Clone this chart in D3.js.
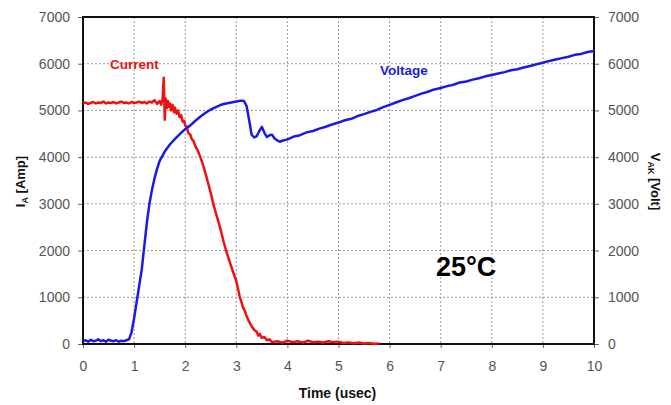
<!DOCTYPE html>
<html><head><meta charset="utf-8">
<script src="https://cdn.jsdelivr.net/npm/d3@7"></script>
<style>
body{margin:0;background:#fff;}
svg text{font-family:"Liberation Sans",Arial,sans-serif;}
</style></head>
<body><svg id="c" width="671" height="405"></svg>
<script>
const timeTicks = [0,1,2,3,4,5,6,7,8,9,10];
const yTicks = [0,1000,2000,3000,4000,5000,6000,7000];

const currentT = [0,0.05,0.1,0.15,0.2,0.25,0.3,0.35,0.4,0.45,0.5,0.55,0.6,0.65,0.7,0.75,0.8,0.85,0.9,0.95,1.0,1.05,1.1,1.15,1.2,1.25,1.3,1.35,1.4,1.45,1.5,1.53,1.56,1.58,1.59,1.6,1.62,1.64,1.66,1.68,1.7,1.72,1.75,1.78,1.8,1.83,1.86,1.89,1.92,1.95,1.98,2.0,2.03,2.06,2.1,2.13,2.16,2.2,2.25,2.3,2.35,2.4,2.45,2.5,2.55,2.6,2.65,2.7,2.75,2.8,2.85,2.9,2.95,3.0,3.04,3.07,3.1,3.13,3.17,3.2,3.25,3.3,3.35,3.4,3.43,3.46,3.5,3.55,3.6,3.65,3.7,3.8,3.9,4.0,4.1,4.2,4.3,4.4,4.5,4.6,4.7,4.8,4.9,5.0,5.1,5.2,5.3,5.4,5.5,5.6,5.7,5.8];
const currentI = [5150,5170,5140,5160,5180,5150,5170,5160,5190,5150,5170,5160,5180,5150,5170,5190,5160,5170,5150,5180,5160,5170,5190,5160,5180,5150,5190,5170,5220,5140,5200,5120,5260,5700,5300,4800,5250,5050,5200,5080,5150,5000,5120,4960,5060,4930,5000,4860,4900,4760,4780,4680,4650,4520,4480,4380,4350,4230,4130,3990,3830,3640,3440,3230,3000,2800,2620,2420,2200,2000,1830,1660,1500,1350,1150,1000,900,790,700,600,480,380,300,260,180,220,130,150,80,100,40,60,30,70,40,60,30,70,40,50,30,60,40,50,20,35,15,30,10,20,5,10];

const voltT = [0,0.05,0.1,0.15,0.2,0.25,0.3,0.35,0.4,0.45,0.5,0.55,0.6,0.65,0.7,0.75,0.8,0.85,0.9,0.95,1.0,1.05,1.1,1.15,1.2,1.25,1.3,1.35,1.4,1.45,1.5,1.6,1.7,1.8,1.9,2.0,2.1,2.2,2.3,2.4,2.5,2.6,2.7,2.8,2.9,3.0,3.05,3.1,3.15,3.2,3.25,3.3,3.35,3.4,3.45,3.5,3.55,3.6,3.65,3.7,3.75,3.8,3.85,3.9,4.0,4.125,4.25,4.375,4.5,4.625,4.75,4.875,5.0,5.125,5.25,5.375,5.5,5.625,5.75,5.875,6.0,6.125,6.25,6.375,6.5,6.625,6.75,6.875,7.0,7.125,7.25,7.375,7.5,7.625,7.75,7.875,8.0,8.125,8.25,8.375,8.5,8.625,8.75,8.875,9.0,9.125,9.25,9.375,9.5,9.625,9.75,9.875,10.0];
const voltV = [60,80,50,90,60,70,100,60,80,50,90,70,60,80,50,70,60,80,100,250,550,900,1250,1600,2100,2600,3000,3300,3550,3750,3920,4120,4270,4390,4500,4600,4680,4780,4870,4950,5020,5070,5120,5150,5170,5190,5200,5210,5200,5100,4800,4480,4420,4450,4560,4650,4520,4430,4470,4480,4400,4360,4330,4350,4380,4440,4470,4530,4560,4610,4650,4700,4740,4790,4820,4880,4920,4970,5010,5070,5120,5170,5220,5260,5310,5360,5400,5450,5480,5520,5550,5600,5620,5660,5690,5730,5760,5790,5820,5860,5880,5920,5950,5990,6020,6060,6090,6120,6150,6190,6210,6250,6270];

const svg = d3.select("#c");
const L=83, R=594, T=17, B=344;
const x = d3.scaleLinear().domain([0,10]).range([L,R]);
const yL = d3.scaleLinear().domain([0,7000]).range([B,T]);
const yR = d3.scaleLinear().domain([0,7000]).range([B,T]);

// grid
const g = svg.append("g");
g.selectAll(".gy").data(yTicks.slice(1,-1)).enter().append("line")
  .attr("x1",L).attr("x2",R).attr("y1",d=>yL(d)).attr("y2",d=>yL(d))
  .attr("stroke","#999").attr("stroke-width",1).attr("stroke-dasharray","2,2");
g.selectAll(".gx").data(timeTicks.slice(1,-1)).enter().append("line")
  .attr("y1",T).attr("y2",B).attr("x1",d=>x(d)).attr("x2",d=>x(d))
  .attr("stroke","#999").attr("stroke-width",1).attr("stroke-dasharray","2,2");

// axes
const styleAxis = sel => {
  sel.select(".domain").remove();
  sel.selectAll(".tick line").attr("stroke","#666");
  sel.selectAll(".tick text").attr("fill","#555").style("font-size","14px").style("font-family","'Liberation Sans',Arial,sans-serif");
};
svg.append("g").attr("transform",`translate(${L},0)`)
  .call(d3.axisLeft(yL).tickValues(yTicks).tickFormat(d3.format("d")).tickSize(5).tickPadding(8)).call(styleAxis);
svg.append("g").attr("transform",`translate(${R},0)`)
  .call(d3.axisRight(yR).tickValues(yTicks).tickFormat(d3.format("d")).tickSize(5).tickPadding(9)).call(styleAxis);
svg.append("g").attr("transform",`translate(0,${B})`)
  .call(d3.axisBottom(x).tickValues(timeTicks).tickFormat(d3.format("d")).tickSize(4).tickPadding(13)).call(styleAxis);

// frame
svg.append("rect").attr("x",L).attr("y",T).attr("width",R-L).attr("height",B-T)
  .attr("fill","none").attr("stroke","#111").attr("stroke-width",2);

// lines
const lineL = d3.line().x(d=>x(d[0])).y(d=>yL(d[1]));
const lineR = d3.line().x(d=>x(d[0])).y(d=>yR(d[1]));
svg.append("path").datum(currentT.map((t,i)=>[t,currentI[i]]))
  .attr("d",lineL).attr("fill","none").attr("stroke","#ee1111").attr("stroke-width",2.5).attr("stroke-linejoin","round");
svg.append("path").datum(voltT.map((t,i)=>[t,voltV[i]]))
  .attr("d",lineR).attr("fill","none").attr("stroke","#1a1ae6").attr("stroke-width",2.5).attr("stroke-linejoin","round");

// labels
svg.append("text").attr("x",110).attr("y",69).attr("fill","#ee1111")
  .style("font-size","13.5px").style("font-weight","bold").text("Current");
svg.append("text").attr("x",380).attr("y",75).attr("fill","#1a1ae6")
  .style("font-size","13.5px").style("font-weight","bold").text("Voltage");
svg.append("text").attr("x",436).attr("y",276).attr("fill","#000")
  .style("font-size","27px").style("font-weight","bold").text("25°C");

svg.append("text").attr("x",(L+R)/2-1).attr("y",398).attr("text-anchor","middle")
  .style("font-size","14px").style("font-weight","bold").attr("fill","#111").text("Time (usec)");

const ly = svg.append("text").attr("transform",`translate(25,${(T+B)/2+1}) rotate(-90)`)
  .attr("text-anchor","middle").style("font-size","13px").style("font-weight","bold").attr("fill","#111");
ly.append("tspan").text("I");
ly.append("tspan").attr("dy",3).style("font-size","9px").text("A");
ly.append("tspan").attr("dy",-3).text(" [Amp]");

const ry = svg.append("text").attr("transform",`translate(651,${(T+B)/2+1}) rotate(90)`)
  .attr("text-anchor","middle").style("font-size","13px").style("font-weight","bold").attr("fill","#111");
ry.append("tspan").text("V");
ry.append("tspan").attr("dy",3).style("font-size","9px").text("AK");
ry.append("tspan").attr("dy",-3).text(" [Volt]");
</script></body></html>
